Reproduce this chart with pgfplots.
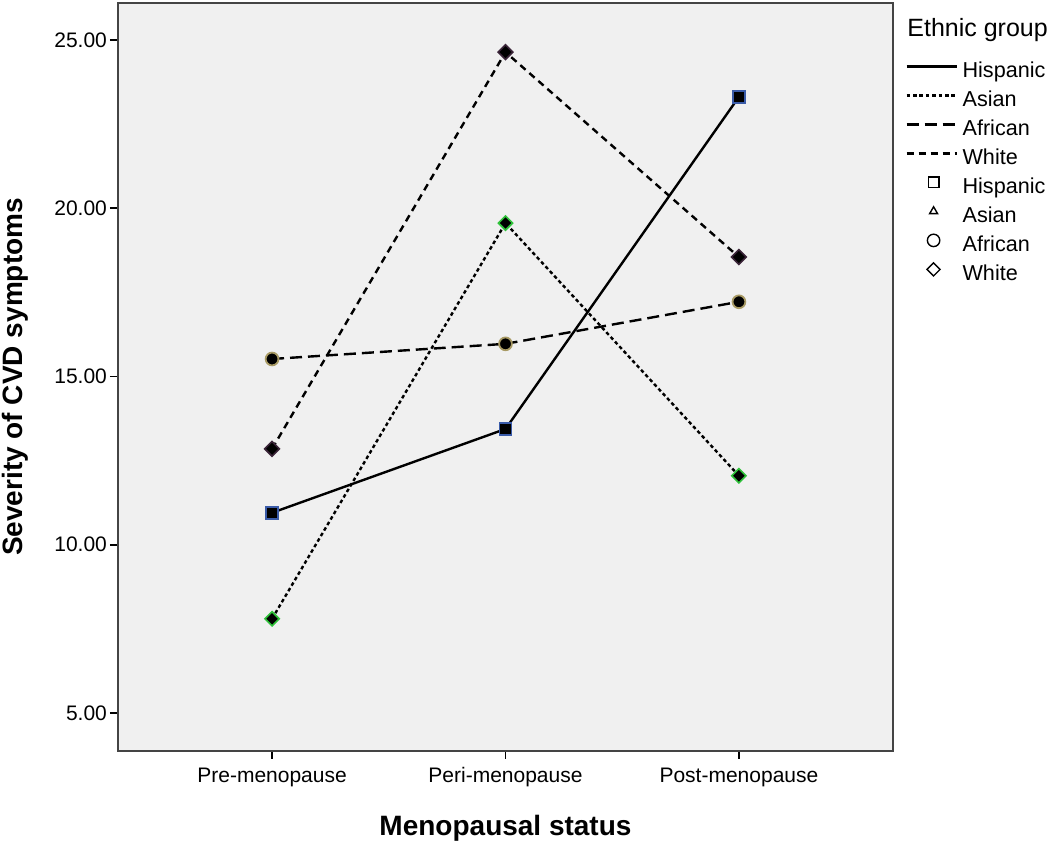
\documentclass[border=0pt]{standalone}
\usepackage{fontspec}
\setmainfont{Liberation Sans}
\usepackage{pgfplots}
\pgfplotsset{compat=1.18}
\definecolor{bgray}{HTML}{F0F0F0}
\definecolor{axgray}{HTML}{444444}
\definecolor{hisp}{HTML}{3A5BA8}
\definecolor{asia}{HTML}{2FC23A}
\definecolor{afri}{HTML}{A89A64}
\definecolor{whit}{HTML}{3A2438}
\tikzset{
  hispline/.style={black, line width=1.2pt, solid},
  asialine/.style={black, line width=1.2pt, dash pattern=on 1.8pt off 1.4pt},
  afriline/.style={black, line width=1.2pt, dash pattern=on 6pt off 3pt},
  whitline/.style={black, line width=1.2pt, dash pattern=on 3.5pt off 2.5pt},
}
\begin{document}
\begin{tikzpicture}
\begin{axis}[
  at={(0,0)}, anchor=south west,
  scale only axis, width=387.5pt, height=374pt,
  xmin=-0.66, xmax=2.66, ymin=3.87, ymax=26.1,
  axis background/.style={fill=bgray},
  axis line style={draw=axgray, line width=1pt},
  xtick={0,1,2},
  xticklabels={Pre-menopause,Peri-menopause,Post-menopause},
  ytick={5,10,15,20,25},
  yticklabel style={xshift=2pt, /pgf/number format/.cd, fixed, fixed zerofill, precision=2},
  /pgf/number format/assume math mode=true,
  tick align=outside, tick pos=left, major tick length=4pt,
  tick style={black, line width=0.8pt},
  ticklabel style={font=\fontsize{10.5}{12}\selectfont},
  xticklabel style={text height=8pt, text depth=2.5pt},
  xlabel={Menopausal status},
  ylabel={Severity of CVD symptoms},
  label style={font=\bfseries\fontsize{14}{16}\selectfont},
  xlabel style={at={(axis description cs:0.5,0)}, anchor=center, yshift=-38.5pt},
  ylabel style={at={(axis description cs:-0.1329,0.5)}, anchor=center},
  legend style={at={(1,1)}, anchor=north west, xshift=6pt, yshift=-27.75pt,
    draw=none, fill=none, inner sep=0pt, row sep=0pt, column sep=0pt,
    font=\fontsize{10.8}{13}\selectfont,
    nodes={inner xsep=1pt, inner ysep=0pt, text height=9.5pt, text depth=5pt}},
  legend cell align=left,
  clip=false,
]
% Hispanic
\addplot[hispline, mark=square*, mark size=3pt,
  mark options={solid, fill=black, draw=hisp, line width=0.8pt}, forget plot]
  coordinates {(0,10.95) (1,13.44) (2,23.31)};
% Asian
\addplot[asialine, mark=square*, mark size=2.5pt,
  mark options={solid, rotate=45, fill=black, draw=asia, line width=0.8pt}, forget plot]
  coordinates {(0,7.80) (1,19.56) (2,12.05)};
% African
\addplot[afriline, mark=*, mark size=3.2pt,
  mark options={solid, fill=black, draw=afri, line width=0.9pt}, forget plot]
  coordinates {(0,15.52) (1,15.97) (2,17.22)};
% White
\addplot[whitline, mark=square*, mark size=2.6pt,
  mark options={solid, rotate=45, fill=black, draw=whit, line width=0.8pt}, forget plot]
  coordinates {(0,12.85) (1,24.64) (2,18.55)};

\addlegendimage{legend image code/.code={\draw[hispline] (0pt,3.5pt) -- (25pt,3.5pt);}}
\addlegendentry{Hispanic}
\addlegendimage{legend image code/.code={\draw[asialine] (0pt,3.5pt) -- (25pt,3.5pt);}}
\addlegendentry{Asian}
\addlegendimage{legend image code/.code={\draw[afriline] (0pt,3.5pt) -- (25pt,3.5pt);}}
\addlegendentry{African}
\addlegendimage{legend image code/.code={\draw[whitline] (0pt,3.5pt) -- (25pt,3.5pt);}}
\addlegendentry{White}
\addlegendimage{legend image code/.code={\path[draw=none] (0pt,3.5pt) -- (27pt,3.5pt);
  \path[draw=none] plot[mark=square, mark size=2.6pt, mark options={draw=black, line width=0.7pt}] coordinates {(13.5pt,3.5pt)};}}
\addlegendentry{Hispanic}
\addlegendimage{legend image code/.code={\path[draw=none] (0pt,3.5pt) -- (27pt,3.5pt);
  \path[draw=none] plot[mark=triangle, mark size=2.3pt, mark options={draw=black, line width=0.7pt}] coordinates {(13.5pt,3.5pt)};}}
\addlegendentry{Asian}
\addlegendimage{legend image code/.code={\path[draw=none] (0pt,3.5pt) -- (27pt,3.5pt);
  \path[draw=none] plot[mark=o, mark size=3.1pt, mark options={draw=black, line width=0.7pt}] coordinates {(13.5pt,3.5pt)};}}
\addlegendentry{African}
\addlegendimage{legend image code/.code={\path[draw=none] (0pt,3.5pt) -- (27pt,3.5pt);
  \path[draw=none] plot[mark=square, mark size=2.3pt, mark options={rotate=45, draw=black, line width=0.7pt}] coordinates {(13.5pt,3.5pt)};}}
\addlegendentry{White}

\node[anchor=west, inner sep=0pt, font=\fontsize{12.5}{14}\selectfont]
  at (rel axis cs:1,1) [xshift=7pt, yshift=-13.5pt] {Ethnic group};
\end{axis}
\pgfresetboundingbox
\path (-59pt,-46.5pt) rectangle (466pt,375.5pt);
\end{tikzpicture}
\end{document}
